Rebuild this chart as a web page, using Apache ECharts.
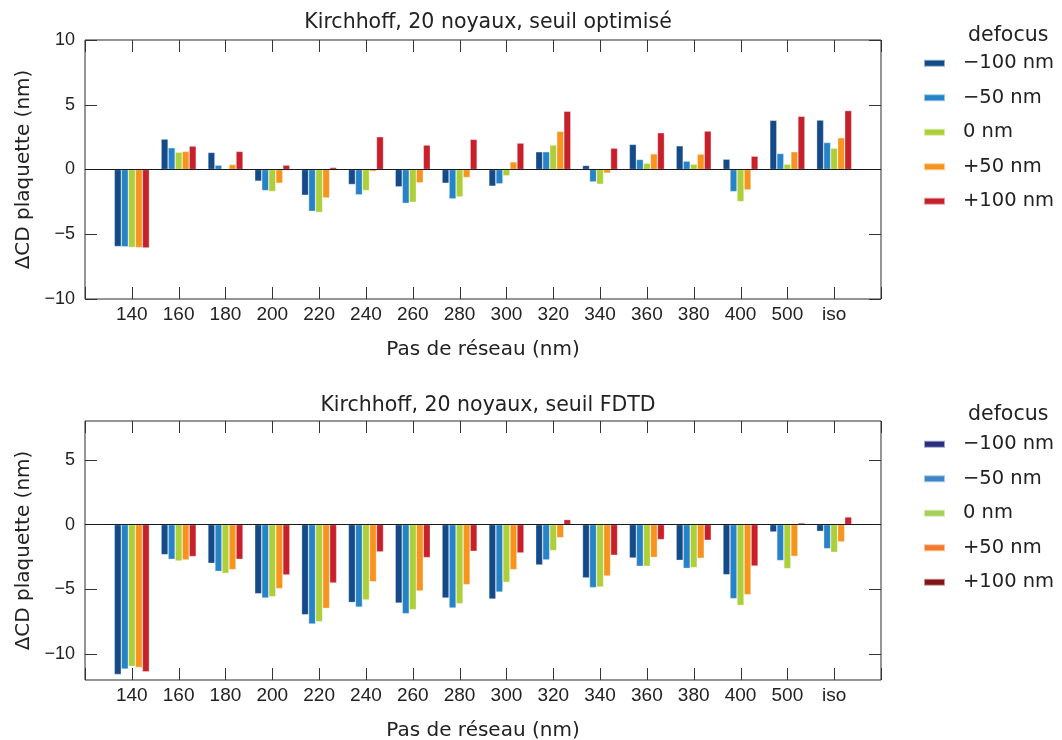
<!DOCTYPE html>
<html>
<head>
<meta charset="utf-8">
<script src="https://cdn.jsdelivr.net/npm/echarts@6/dist/echarts.min.js"></script>
<style>
html,body{margin:0;padding:0;background:#fff;}
#c{width:1062px;height:740px;}
</style>
</head>
<body>
<div id="c"></div>
<script>
const categories = ['140','160','180','200','220','240','260','280','300','320','340','360','380','400','500','iso'];
const seriesNames = ['\u2212100 nm','\u221250 nm','0 nm','+50 nm','+100 nm'];
const titleTop = 'Kirchhoff, 20 noyaux, seuil optimisé';
const titleBottom = 'Kirchhoff, 20 noyaux, seuil FDTD';
const xName = 'Pas de réseau (nm)';
const yName = '\u0394CD plaquette (nm)';
const legendTitle = 'defocus';

// top chart (seuil optimisé)
const topM100 = [-5.95, 2.35, 1.32, -0.90, -1.99, -1.16, -1.34, -1.06, -1.29, 1.37, 0.31, 1.94, 1.83, 0.80, 3.80, 3.82];
const topM50  = [-5.97, 1.68, 0.34, -1.63, -3.23, -1.96, -2.61, -2.27, -1.11, 1.37, -0.96, 0.78, 0.65, -1.71, 1.24, 2.09];
const top0    = [-6.02, 1.34, -0.05, -1.70, -3.31, -1.63, -2.53, -2.12, -0.49, 1.89, -1.14, 0.49, 0.41, -2.48, 0.41, 1.65];
const topP50  = [-6.03, 1.40, 0.39, -1.06, -2.20, -0.15, -1.03, -0.62, 0.59, 2.95, -0.28, 1.21, 1.19, -1.58, 1.37, 2.45];
const topP100 = [-6.06, 1.81, 1.40, 0.34, 0.16, 2.53, 1.89, 2.33, 2.04, 4.50, 1.65, 2.84, 2.97, 1.03, 4.11, 4.55];

// bottom chart (seuil FDTD)
const botM100 = [-11.57, -2.32, -2.99, -5.34, -6.96, -6.01, -6.06, -5.67, -5.75, -3.12, -4.12, -2.58, -2.76, -3.87, -0.57, -0.52];
const botM50  = [-11.16, -2.68, -3.61, -5.67, -7.68, -6.37, -6.88, -6.44, -5.21, -2.73, -4.87, -3.22, -3.38, -5.72, -2.78, -1.86];
const bot0    = [-10.95, -2.81, -3.76, -5.57, -7.50, -5.82, -6.57, -6.11, -4.46, -2.01, -4.82, -3.22, -3.32, -6.24, -3.40, -2.14];
const botP50  = [-11.03, -2.73, -3.48, -4.95, -6.47, -4.41, -5.13, -4.64, -3.48, -1.01, -3.97, -2.53, -2.60, -5.41, -2.45, -1.34];
const botP100 = [-11.37, -2.47, -2.68, -3.89, -4.51, -2.11, -2.55, -2.06, -2.19, 0.39, -2.37, -1.16, -1.21, -3.20, 0.13, 0.59];

const topTicks = [-10, -5, 0, 5, 10];
const botTicks = [-10, -5, 0, 5];

const barColors = ['#154a89', '#2783c7', '#accf3a', '#f7941e', '#c8202a'];
const bottomLegendColors = ['#2b2f80', '#3e87c7', '#a5cf5b', '#f37a2a', '#821418'];

const SANS = 'DejaVu Sans';
const TICKF = 'Liberation Sans';
const axisData = [''].concat(categories, ['']);
const pad = arr => [null].concat(arr, [null]);
const minusFmt = v => String(v).replace('-', '\u2212');

const grids = [
  {left: 85, top: 40, width: 796, height: 259, show: true, borderColor: '#2b2b2b', borderWidth: 1, containLabel: false, outerBoundsMode: 'none'},
  {left: 85, top: 421, width: 796, height: 259, show: true, borderColor: '#2b2b2b', borderWidth: 1, containLabel: false, outerBoundsMode: 'none'}
];

const tickStyle = {color: '#333', width: 1};
const TICK_LEN = 12;

function xAxes(gi) {
  return [
    {gridIndex: gi, type: 'category', data: axisData, boundaryGap: false, position: 'bottom',
     axisLine: {show: false, onZero: false}, axisTick: {show: false},
     axisLabel: {show: true, interval: 0, color: '#222', fontFamily: TICKF, fontSize: 19, margin: 6},
     splitLine: {show: false},
     name: xName, nameLocation: 'middle', nameGap: 41,
     nameTextStyle: {fontFamily: SANS, fontSize: 20, color: '#222'}}
  ];
}
function yAxes(gi, min, max, ticks) {
  return [
    {gridIndex: gi, type: 'value', min: min, max: max, position: 'left',
     axisLine: {show: false, onZero: false},
     axisTick: {show: true, inside: true, length: TICK_LEN, customValues: ticks, lineStyle: tickStyle},
     axisLabel: {show: true, customValues: ticks, formatter: minusFmt, color: '#222', fontFamily: TICKF, fontSize: 18, margin: 10},
     splitLine: {show: false},
     name: yName, nameLocation: 'middle', nameGap: 42,
     nameTextStyle: {fontFamily: SANS, fontSize: 20, color: '#222'}},
    {gridIndex: gi, type: 'value', min: min, max: max, position: 'right',
     axisLine: {show: false, onZero: false},
     axisTick: {show: true, inside: true, length: TICK_LEN, customValues: ticks, lineStyle: tickStyle},
     axisLabel: {show: false}, splitLine: {show: false}}
  ];
}

const topData = [topM100, topM50, top0, topP50, topP100];
const botData = [botM100, botM50, bot0, botP50, botP100];

const series = [];
function addSeries(datasets, gi) {
  datasets.forEach((d, i) => {
    const s = {
      type: 'bar', name: seriesNames[i],
      xAxisIndex: gi, yAxisIndex: gi * 2,
      data: pad(d),
      barGap: '0%', barCategoryGap: '25%',
      itemStyle: {color: barColors[i], borderColor: 'rgba(255,255,255,0.55)', borderWidth: 0.6},
      emphasis: {disabled: true},
      animation: false
    };
    if (i === 4) {
      s.markLine = {silent: true, symbol: 'none', label: {show: false},
        lineStyle: {color: '#1a1a1a', width: 1, type: 'solid'},
        data: [{yAxis: 0}], animation: false};
    }
    series.push(s);
  });
  // category tick marks on the top and bottom frame edges, placed through the category scale
  series.push({
    type: 'custom', name: 'xticks' + gi,
    xAxisIndex: gi, yAxisIndex: gi * 2,
    silent: true, clip: false, z: 10, animation: false,
    data: axisData.map((c, idx) => [idx, 0]),
    renderItem: function (params, api) {
      const cs = params.coordSys;
      const x = Math.round(api.coord([api.value(0), 0])[0]) + 0.5;
      const yTop = cs.y, yBot = cs.y + cs.height;
      const st = {stroke: '#333', lineWidth: 1};
      return {type: 'group', children: [
        {type: 'line', shape: {x1: x, y1: yTop, x2: x, y2: yTop + TICK_LEN}, style: st},
        {type: 'line', shape: {x1: x, y1: yBot, x2: x, y2: yBot - TICK_LEN}, style: st}
      ]};
    }
  });
}
addSeries(topData, 0);
addSeries(botData, 1);

function legendFor(gi, top, colors) {
  return {
    orient: 'vertical', left: 918, top: top,
    itemWidth: 21, itemHeight: 7, itemGap: 14,
    icon: 'rect',
    selectedMode: false,
    textStyle: {fontFamily: SANS, fontSize: 19.5, color: '#222', lineHeight: 20.5, padding: [0, 0, 0, 13]},
    data: seriesNames.map((n, i) => ({name: n, itemStyle: {color: colors[i]}}))
  };
}

const tStyle = {fontFamily: SANS, fontSize: 20.5, fontWeight: 'normal', color: '#222'};
const chart = echarts.init(document.getElementById('c'), null, {renderer: 'canvas'});
chart.setOption({
  backgroundColor: '#fff',
  animation: false,
  title: [
    {text: titleTop, left: 483, top: 7, textAlign: 'center', textStyle: tStyle},
    {text: titleBottom, left: 483, top: 390, textAlign: 'center', textStyle: tStyle},
    {text: legendTitle, left: 963, top: 20, textStyle: tStyle},
    {text: legendTitle, left: 963, top: 399, textStyle: tStyle}
  ],
  grid: grids,
  xAxis: xAxes(0).concat(xAxes(1)),
  yAxis: yAxes(0, -10, 10, topTicks).concat(yAxes(1, -12, 8, botTicks)),
  legend: [legendFor(0, 48, barColors), legendFor(1, 429, bottomLegendColors)],
  series: series
});
</script>
</body>
</html>
